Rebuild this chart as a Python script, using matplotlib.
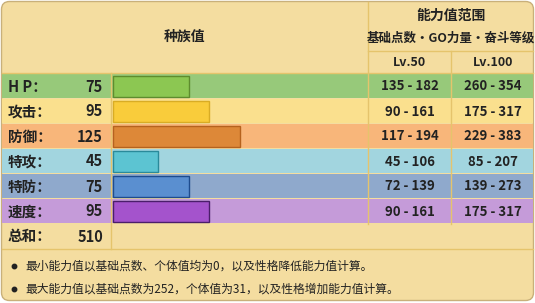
import matplotlib.pyplot as plt
from matplotlib.patches import Rectangle, FancyBboxPatch

plt.rcParams['font.family'] = ['Noto Sans CJK SC', 'DejaVu Sans']

# data
stat_names = ["H P：", "攻击：", "防御：", "特攻：", "特防：", "速度："]
base_stats = [75, 95, 125, 45, 75, 95]
lv50_range = ["135 - 182", "90 - 161", "117 - 194", "45 - 106", "72 - 139", "90 - 161"]
lv100_range = ["260 - 354", "175 - 317", "229 - 383", "85 - 207", "139 - 273", "175 - 317"]
total_label = "总和："
total_value = 510
notes = ["最小能力值以基础点数、个体值均为0，以及性格降低能力值计算。",
         "最大能力值以基础点数为252，个体值为31，以及性格增加能力值计算。"]

# styles
row_bg = ["#97C97A", "#FAE08E", "#F8B67A", "#A2D5DF", "#8FA9CC", "#C59BD9"]
bar_fc = ["#8CC752", "#F9CC3B", "#DD8838", "#5CC4D2", "#5A8FD0", "#A453CC"]
bar_ec = ["#5E8C2E", "#D9AC24", "#B5621E", "#2A8A9A", "#1E4C8E", "#4A1E6A"]
gold = "#F4DDA0"
line = "#E5C46C"
txt = "#222222"

fig = plt.figure(figsize=(5.35, 3.03), dpi=100)
ax = fig.add_axes([0, 0, 1, 1])
ax.set_xlim(0, 535)
ax.set_ylim(303, 0)
ax.axis('off')

# outer box
ax.add_patch(FancyBboxPatch((1.5, 1.5), 532, 299, boxstyle="round,pad=0,rounding_size=8",
                            fc=gold, ec="#C9B07A", lw=1))

row_h = 25
top = 74
x_lab, x_bar, x_mid, x_r = 0, 111, 368, 451

for i, name in enumerate(stat_names):
    y0 = top + i * row_h
    ax.add_patch(Rectangle((2, y0), 531, row_h - 1, fc=row_bg[i], ec='none'))
    ax.text(8, y0 + row_h / 2, name, fontsize=10.5, fontweight='bold', color=txt,
            va='center', ha='left')
    ax.text(103, y0 + row_h / 2, str(base_stats[i]), fontsize=10.5, fontweight='bold',
            color=txt, va='center', ha='right')
    ax.text((x_mid + x_r) / 2, y0 + row_h / 2, lv50_range[i], fontsize=9.5,
            fontweight='bold', color=txt, va='center', ha='center')
    ax.text((x_r + 535) / 2, y0 + row_h / 2, lv100_range[i], fontsize=9.5,
            fontweight='bold', color=txt, va='center', ha='center')

# bars
ys = [top + i * row_h + (row_h - 1) / 2 for i in range(len(base_stats))]
ax.barh(ys, [v * 1.02 for v in base_stats], left=x_bar + 1.5, height=21,
        color=bar_fc, edgecolor=bar_ec, linewidth=1)

# total row
ty = top + 6 * row_h
ax.text(8, ty + row_h / 2, total_label, fontsize=10.5, fontweight='bold', color=txt,
        va='center', ha='left')
ax.text(103, ty + row_h / 2, str(total_value), fontsize=10.5, fontweight='bold',
        color=txt, va='center', ha='right')

# grid lines
ax.plot([2, 533], [73, 73], color=line, lw=1)
ax.plot([2, 533], [ty + row_h, ty + row_h], color=line, lw=1)
ax.plot([x_bar, x_bar], [73, ty + row_h], color=line, lw=1)
ax.plot([x_mid, x_mid], [2, ty], color=line, lw=1)
ax.plot([x_r, x_r], [51, ty], color=line, lw=1)
ax.plot([x_mid, 533], [51, 51], color=line, lw=1)

# header
ax.text(185, 37, "种族值", fontsize=10, fontweight='bold', color=txt, ha='center', va='center')
ax.text(451, 16, "能力值范围", fontsize=10, fontweight='bold', color=txt, ha='center', va='center')
ax.text(451, 38, "基础点数・GO力量・奋斗等级", fontsize=9, fontweight='bold', color=txt,
        ha='center', va='center')
ax.text((x_mid + x_r) / 2, 62, "Lv.50", fontsize=9, fontweight='bold', color=txt,
        ha='center', va='center')
ax.text((x_r + 535) / 2, 62, "Lv.100", fontsize=9, fontweight='bold', color=txt,
        ha='center', va='center')

# notes
for k, note in enumerate(notes):
    yy = 266 + k * 23
    ax.plot(14, yy, 'o', color=txt, ms=3.2)
    ax.text(25, yy, note, fontsize=8.5, color=txt, ha='left', va='center')

fig.savefig("out.png", dpi=100)
